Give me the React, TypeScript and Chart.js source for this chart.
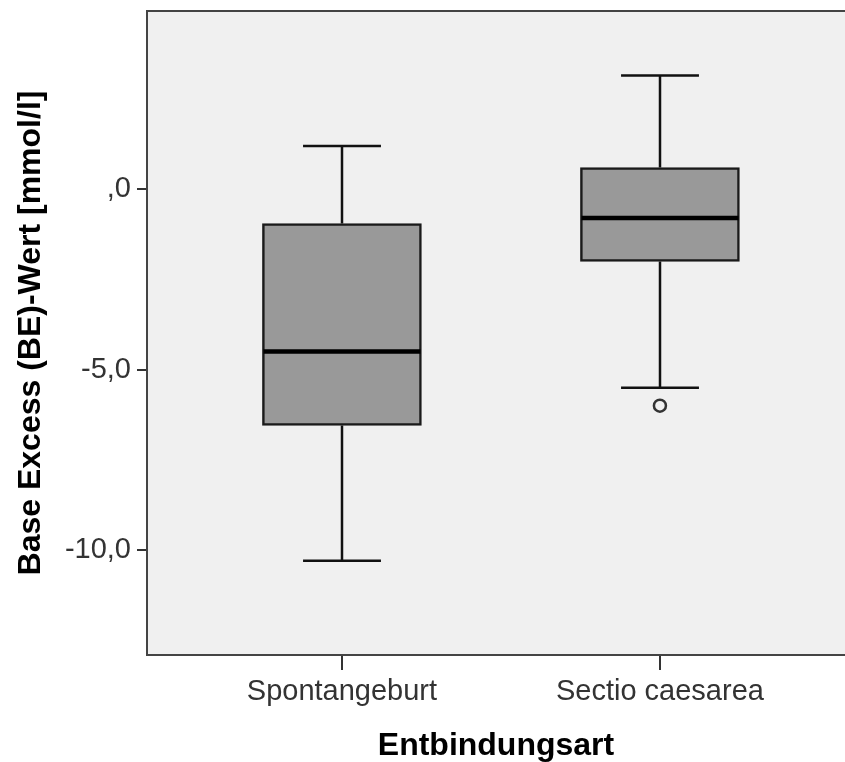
import React, { useEffect, useRef } from "react";
import { Chart, registerables } from "chart.js";

Chart.register(...registerables);

const categories = ["Spontangeburt", "Sectio caesarea"];
const positions = [1, 2];
const whiskerLow = [-10.3, -5.5];
const q1 = [-6.55, -2.0];
const median = [-4.5, -0.8];
const q3 = [-0.95, 0.6];
const whiskerHigh = [1.2, 3.15];
const outlierX = [2];
const outlierY = [-6.0];
const yTicks = [-10, -5, 0];
const yMin = -12.91;
const yMax = 4.94;
const xMin = 0.387;
const xMax = 2.582;

const fmt = (v: number) => {
  const s = v.toFixed(1).replace(".", ",");
  return s.startsWith("0,") ? s.slice(1) : s;
};

const boxPlugin = {
  id: "boxParts",
  beforeDraw(chart: any) {
    const { ctx, chartArea } = chart;
    ctx.save();
    ctx.fillStyle = "#F0F0F0";
    ctx.fillRect(chartArea.left, chartArea.top, chartArea.right - chartArea.left, chartArea.bottom - chartArea.top);
    ctx.restore();
  },
  afterDatasetsDraw(chart: any) {
    const { ctx, chartArea } = chart;
    const y = chart.scales.y;
    const meta = chart.getDatasetMeta(0);
    ctx.save();
    meta.data.forEach((bar: any, i: number) => {
      const cx = Math.round(bar.x);
      const half = bar.width / 2;
      const cap = bar.width * 0.245;
      const pLo = y.getPixelForValue(whiskerLow[i]);
      const pQ1 = y.getPixelForValue(q1[i]);
      const pQ3 = y.getPixelForValue(q3[i]);
      const pHi = y.getPixelForValue(whiskerHigh[i]);
      const pMed = y.getPixelForValue(median[i]);
      ctx.strokeStyle = "#111";
      ctx.lineWidth = 2.5;
      ctx.beginPath();
      ctx.moveTo(cx, pQ3);
      ctx.lineTo(cx, pHi);
      ctx.moveTo(cx - cap, pHi);
      ctx.lineTo(cx + cap, pHi);
      ctx.moveTo(cx, pQ1);
      ctx.lineTo(cx, pLo);
      ctx.moveTo(cx - cap, pLo);
      ctx.lineTo(cx + cap, pLo);
      ctx.stroke();
      ctx.strokeStyle = "#000";
      ctx.lineWidth = 4.5;
      ctx.beginPath();
      ctx.moveTo(cx - half + 1, pMed);
      ctx.lineTo(cx + half - 1, pMed);
      ctx.stroke();
    });
    ctx.strokeStyle = "#444";
    ctx.lineWidth = 2;
    ctx.beginPath();
    ctx.moveTo(chartArea.left, chartArea.top);
    ctx.lineTo(chartArea.right, chartArea.top);
    ctx.stroke();
    ctx.restore();
  },
};

export default function App() {
  const ref = useRef<HTMLCanvasElement | null>(null);
  useEffect(() => {
    if (!ref.current) return;
    const chart = new Chart(ref.current, {
      type: "bar",
      data: {
        datasets: [
          {
            type: "bar",
            data: positions.map((p, i) => ({ x: p, y: [q1[i], q3[i]] })) as any,
            backgroundColor: "#999999",
            borderColor: "#1a1a1a",
            borderWidth: 2.5,
            borderSkipped: false,
            barThickness: 159,
          } as any,
          {
            type: "scatter",
            data: outlierX.map((x, i) => ({ x, y: outlierY[i] })),
            pointRadius: 6,
            pointBorderWidth: 2.5,
            pointBorderColor: "#333",
            pointBackgroundColor: "rgba(0,0,0,0)",
          } as any,
        ],
      },
      options: {
        animation: false,
        responsive: false,
        layout: { autoPadding: false, padding: { top: 11, left: 0, right: 0, bottom: 0 } },
        plugins: { legend: { display: false }, tooltip: { enabled: false } },
        scales: {
          x: {
            type: "linear",
            min: xMin,
            max: xMax,
            offset: false,
            afterBuildTicks: (s: any) => {
              s.ticks = positions.map((v) => ({ value: v }));
            },
            afterFit: (s: any) => {
              s.height = 107;
              s.paddingLeft = 0;
              s.paddingRight = 0;
            },
            grid: { drawOnChartArea: false, tickLength: 15, color: "#333", lineWidth: 2, offset: false },
            border: { display: true, color: "#444", width: 2 },
            ticks: {
              padding: 5,
              color: "#333",
              autoSkip: false,
              maxRotation: 0,
              font: { family: "Liberation Sans, Arial, sans-serif", size: 29 },
              callback: (v: any) => {
                const idx = positions.indexOf(Number(v));
                return idx >= 0 ? categories[idx] : "";
              },
            },
            title: {
              display: true,
              text: "Entbindungsart",
              color: "#000",
              padding: { top: 0, bottom: 0 },
              font: { family: "Liberation Sans, Arial, sans-serif", size: 32, weight: "bold", lineHeight: 1 },
            },
          } as any,
          y: {
            type: "linear",
            min: yMin,
            max: yMax,
            afterBuildTicks: (s: any) => {
              s.ticks = yTicks.map((v) => ({ value: v }));
            },
            afterFit: (s: any) => {
              s.width = 147;
              s.paddingTop = 0;
              s.paddingBottom = 0;
            },
            grid: { drawOnChartArea: false, tickLength: 10, color: "#333", lineWidth: 2 },
            border: { display: true, color: "#444", width: 2 },
            ticks: {
              padding: 6,
              color: "#333",
              font: { family: "Liberation Sans, Arial, sans-serif", size: 29 },
              callback: (v: any) => fmt(Number(v)),
            },
            title: {
              display: true,
              text: "Base Excess (BE)-Wert [mmol/l]",
              color: "#000",
              padding: { top: 15, bottom: 0 },
              font: { family: "Liberation Sans, Arial, sans-serif", size: 32, weight: "bold", lineHeight: 1 },
            },
          } as any,
        },
      },
      plugins: [boxPlugin],
    });
    return () => chart.destroy();
  }, []);
  return (
    <div style={{ position: "absolute", left: 0, top: 0, width: 845, height: 762, background: "#fff" }}>
      <canvas ref={ref} width={845} height={762} style={{ display: "block" }} />
    </div>
  );
}
